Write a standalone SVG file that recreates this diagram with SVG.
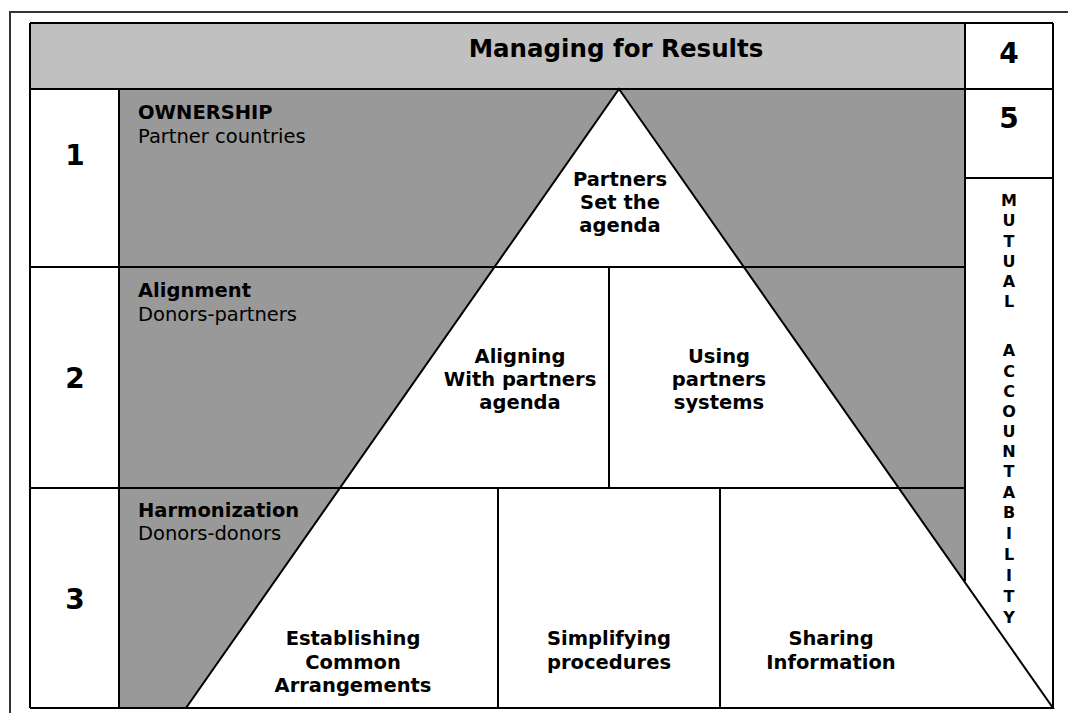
<svg xmlns="http://www.w3.org/2000/svg" width="1068" height="713" viewBox="0 0 1068 713">
<style>
  text { font-family: "DejaVu Sans", Verdana, "Liberation Sans", sans-serif; fill: #000; }
  .b { font-weight: bold; font-size: 19.5px; }
  .r { font-size: 19.5px; }
  .c { text-anchor: middle; }
  .num { font-weight: bold; font-size: 28px; text-anchor: middle; }
  .hdr { font-weight: bold; font-size: 24.5px; text-anchor: middle; }
  .vt { font-weight: bold; font-size: 16px; text-anchor: middle; }
  .ln { stroke: #000; stroke-width: 2; fill: none; }
  .frame { stroke: #333; stroke-width: 2; fill: none; }
</style>
<rect x="0" y="0" width="1068" height="713" fill="#fff"/>

<g id="frame">
  <line class="frame" x1="10" y1="12" x2="1068" y2="12"/>
  <line class="frame" x1="10" y1="11" x2="10" y2="713"/>
</g>

<g id="header">
  <rect x="30" y="23" width="935" height="66" fill="#c0c0c0"/>
  <text class="hdr" x="616" y="57">Managing for Results</text>
</g>

<g id="gray-field">
  <rect x="119" y="89" width="846" height="619" fill="#999999"/>
</g>

<g id="pyramid">
  <polygon points="619,89 1053,708 186,708" fill="#fff" stroke="#000" stroke-width="2" stroke-linejoin="miter"/>
</g>

<g id="connectors">
  <line class="ln" x1="30" y1="23" x2="1053" y2="23"/>
  <line class="ln" x1="30" y1="89" x2="1053" y2="89"/>
  <line class="ln" x1="965" y1="178" x2="1053" y2="178"/>
  <line class="ln" x1="30" y1="267" x2="965" y2="267"/>
  <line class="ln" x1="30" y1="488" x2="965" y2="488"/>
  <line class="ln" x1="30" y1="708" x2="1053" y2="708"/>
  <line class="ln" x1="30" y1="23" x2="30" y2="708"/>
  <line class="ln" x1="119" y1="89" x2="119" y2="708"/>
  <line class="ln" x1="965" y1="23" x2="965" y2="581"/>
  <line class="ln" x1="1053" y1="23" x2="1053" y2="708"/>
  <line class="ln" x1="609" y1="267" x2="609" y2="488"/>
  <line class="ln" x1="498" y1="488" x2="498" y2="708"/>
  <line class="ln" x1="720" y1="488" x2="720" y2="708"/>
</g>

<g id="cell-4"><text class="num" x="1009" y="63" font-size="27">4</text></g>
<g id="cell-5"><text class="num" x="1009" y="128" font-size="27">5</text></g>

<g id="mutual-accountability">
  <text class="vt" x="1009" y="206">M</text>
  <text class="vt" x="1009" y="226">U</text>
  <text class="vt" x="1009" y="246.5">T</text>
  <text class="vt" x="1009" y="266.5">U</text>
  <text class="vt" x="1009" y="287">A</text>
  <text class="vt" x="1009" y="307">L</text>
  <text class="vt" x="1009" y="356">A</text>
  <text class="vt" x="1009" y="376.5">C</text>
  <text class="vt" x="1009" y="397">C</text>
  <text class="vt" x="1009" y="417">O</text>
  <text class="vt" x="1009" y="437">U</text>
  <text class="vt" x="1009" y="457">N</text>
  <text class="vt" x="1009" y="477">T</text>
  <text class="vt" x="1009" y="498">A</text>
  <text class="vt" x="1009" y="518">B</text>
  <text class="vt" x="1009" y="539">I</text>
  <text class="vt" x="1009" y="560">L</text>
  <text class="vt" x="1009" y="580.5">I</text>
  <text class="vt" x="1009" y="601.5">T</text>
  <text class="vt" x="1009" y="622.5">Y</text>
</g>

<g id="row-1">
  <text class="num" x="75" y="165">1</text>
  <text class="b" x="138" y="119">OWNERSHIP</text>
  <text class="r" x="138" y="143">Partner countries</text>
</g>
<g id="row-2">
  <text class="num" x="75" y="388">2</text>
  <text class="b" x="138" y="297">Alignment</text>
  <text class="r" x="138" y="321">Donors-partners</text>
</g>
<g id="row-3">
  <text class="num" x="75" y="609">3</text>
  <text class="b" x="138" y="517">Harmonization</text>
  <text class="r" x="138" y="540">Donors-donors</text>
</g>

<g id="partners-set-agenda">
  <text class="b c" x="620" y="186">Partners<tspan x="620" dy="23">Set the</tspan><tspan x="620" dy="23">agenda</tspan></text>
</g>
<g id="aligning">
  <text class="b c" x="520" y="363">Aligning<tspan x="520" dy="23">With partners</tspan><tspan x="520" dy="23">agenda</tspan></text>
</g>
<g id="using-systems">
  <text class="b c" x="719" y="363">Using<tspan x="719" dy="23">partners</tspan><tspan x="719" dy="23">systems</tspan></text>
</g>
<g id="establishing">
  <text class="b c" x="353" y="645">Establishing<tspan x="353" dy="23.5">Common</tspan><tspan x="353" dy="23.5">Arrangements</tspan></text>
</g>
<g id="simplifying">
  <text class="b c" x="609" y="645">Simplifying<tspan x="609" dy="23.5">procedures</tspan></text>
</g>
<g id="sharing">
  <text class="b c" x="831" y="645">Sharing<tspan x="831" dy="23.5">Information</tspan></text>
</g>
</svg>
